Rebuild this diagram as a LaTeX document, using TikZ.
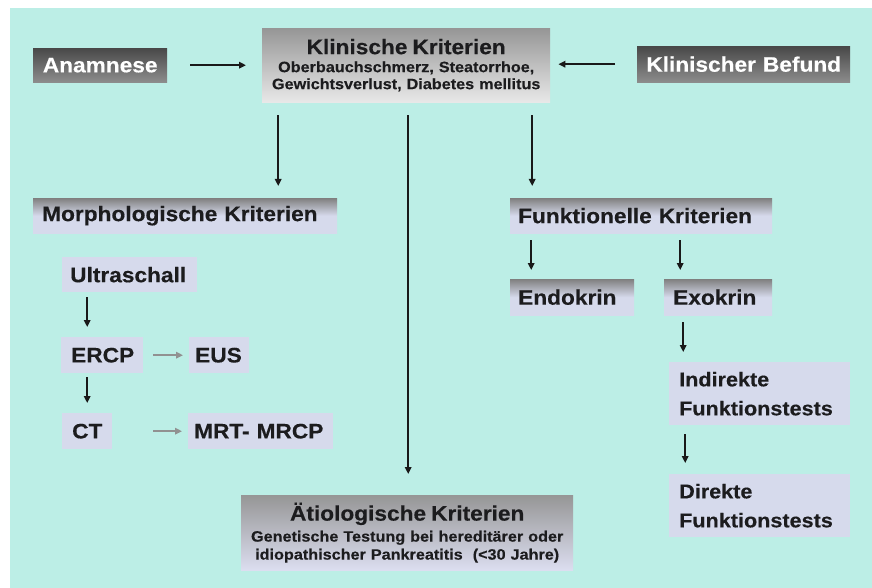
\documentclass[tikz,border=0pt]{standalone}
\usepackage{fontspec}
\setmainfont{Liberation Sans}[FakeStretch=1.08, BoldFeatures={FakeBold=0.3}]
\usetikzlibrary{arrows.meta}
\definecolor{bgc}{RGB}{188,238,230}
\definecolor{lav}{RGB}{214,218,236}
\definecolor{drktop}{RGB}{72,72,72}
\definecolor{drkbot}{RGB}{140,140,140}
\definecolor{kktop}{RGB}{150,150,150}
\definecolor{kkbot}{RGB}{232,232,232}
\definecolor{hdtop}{RGB}{128,128,128}
\definecolor{aettop}{RGB}{150,150,150}
\definecolor{aetbot}{RGB}{220,222,240}
\definecolor{txt}{RGB}{28,28,30}
\definecolor{grayarr}{RGB}{145,145,145}
\begin{document}
\begin{tikzpicture}[x=1pt,y=-1pt,
  every node/.style={inner ysep=0pt, anchor=north west, text=txt},
  ttl/.style={font=\bfseries\fontsize{21}{24}\selectfont},
  darkbox/.style={ttl, top color=drktop, bottom color=drkbot, text=white, align=center},
  kkbox/.style={top color=kktop, bottom color=kkbot, align=center, font=\bfseries\fontsize{15}{17}\selectfont},
  headbox/.style={ttl, top color=hdtop, bottom color=lav, middle color=lav, align=left},
  lavbox/.style={ttl, fill=lav, align=left},
  aetbox/.style={top color=aettop, bottom color=aetbot, align=center, font=\bfseries\fontsize{15}{18}\selectfont},
  arr/.style={-{Triangle[length=7pt,width=6.5pt]}, line width=1.8pt, draw=black!90},
  garr/.style={-{Triangle[length=7pt,width=6.5pt]}, line width=1.8pt, draw=grayarr}
]
\useasboundingbox (0,0) rectangle (872,588);
\fill[white] (0,0) rectangle (872,588);
\fill[bgc] (10,8) rectangle (872,588);

% top row
\node[darkbox, minimum height=34pt, text width=118pt, inner xsep=8pt] (anam) at (33,48) {Anamnese};
\node[kkbox, minimum height=74pt, text width=272pt, inner xsep=8pt] (kk) at (262,28)
  {{\fontsize{21}{21}\selectfont Klinische Kriterien}\\[1pt]Oberbauchschmerz, Steatorrhoe,\\Gewichtsverlust, Diabetes mellitus};
\node[darkbox, minimum height=36pt, text width=197pt, inner xsep=8pt] (kb) at (637,46) {Klinischer Befund};

% morphological branch
\node[headbox, minimum height=35pt, text width=286pt, inner xsep=9pt] (morph) at (33,198) {Morphologische Kriterien};
\node[lavbox, minimum height=35pt, text width=119pt, inner xsep=8pt] (ultra) at (62,257) {Ultraschall};
\node[lavbox, minimum height=36pt, text width=62pt, inner xsep=10pt] (ercp) at (61,337) {ERCP};
\node[lavbox, minimum height=36pt, text width=48pt, inner xsep=6pt] (eus) at (189,337) {EUS};
\node[lavbox, minimum height=36pt, text width=30pt, inner xsep=10pt] (ct) at (62,413) {CT};
\node[lavbox, minimum height=36pt, text width=133pt, inner xsep=6pt] (mrt) at (188,413) {MRT- MRCP};

% functional branch
\node[headbox, minimum height=35pt, text width=246pt, inner xsep=8pt] (funk) at (510,198) {Funktionelle Kriterien};
\node[headbox, minimum height=36pt, text width=108pt, inner xsep=8pt] (endo) at (510,279) {Endokrin};
\node[headbox, minimum height=36pt, text width=90pt, inner xsep=9pt] (exo) at (664,279) {Exokrin};
\node[lavbox, font=\bfseries\fontsize{20}{29}\selectfont, minimum height=63pt, text width=161pt, inner xsep=10pt] (indir) at (669,362) {Indirekte\\Funktionstests};
\node[lavbox, font=\bfseries\fontsize{20}{29}\selectfont, minimum height=63pt, text width=161pt, inner xsep=10pt] (direkt) at (669,474) {Direkte\\Funktionstests};

% aetiological
\node[aetbox, minimum height=75pt, text width=316pt, inner xsep=8pt] (aet) at (241,495)
  {{\fontsize{21}{21}\selectfont Ätiologische Kriterien}\\[3pt]Genetische Testung bei hereditärer oder\\idiopathischer Pankreatitis\ \ (<30 Jahre)};

% connectors
\draw[arr, shorten <=23pt, shorten >=16pt] (anam.east) -- (anam.east -| kk.west);
\draw[arr, shorten <=22pt, shorten >=8pt] (kb.west) -- (kb.west -| kk.east);
\draw[arr, shorten <=13pt, shorten >=12pt] ([xshift=-128pt]kk.south) -- ([xshift=-128pt]kk.south |- morph.north);
\draw[arr, shorten <=13pt, shorten >=21pt] ([xshift=2pt]kk.south) -- ([xshift=2pt]kk.south |- aet.north);
\draw[arr, shorten <=13pt, shorten >=12pt] ([xshift=126pt]kk.south) -- ([xshift=126pt]kk.south |- funk.north);
\draw[arr, shorten <=5pt, shorten >=10pt] ([xshift=-42.5pt]ultra.south) -- ([xshift=-42.5pt]ultra.south |- ercp.north);
\draw[arr, shorten <=4pt, shorten >=10pt] ([xshift=-15pt]ercp.south) -- ([xshift=-15pt]ercp.south |- ct.north);
\draw[garr, shorten <=10pt, shorten >=6pt] (ercp.east) -- (eus.west);
\draw[garr, shorten <=41pt, shorten >=6pt] (ct.east) -- (mrt.west);
\draw[arr, shorten <=7pt, shorten >=9pt] ([xshift=-110pt]funk.south) -- ([xshift=-110pt]funk.south |- endo.north);
\draw[arr, shorten <=7pt, shorten >=9pt] ([xshift=39pt]funk.south) -- ([xshift=39pt]funk.south |- exo.north);
\draw[arr, shorten <=7pt, shorten >=10pt] ([xshift=-35pt]exo.south) -- ([xshift=-35pt]exo.south |- indir.north);
\draw[arr, shorten <=9pt, shorten >=11pt] ([xshift=-74.5pt]indir.south) -- ([xshift=-74.5pt]indir.south |- direkt.north);
\end{tikzpicture}
\end{document}
